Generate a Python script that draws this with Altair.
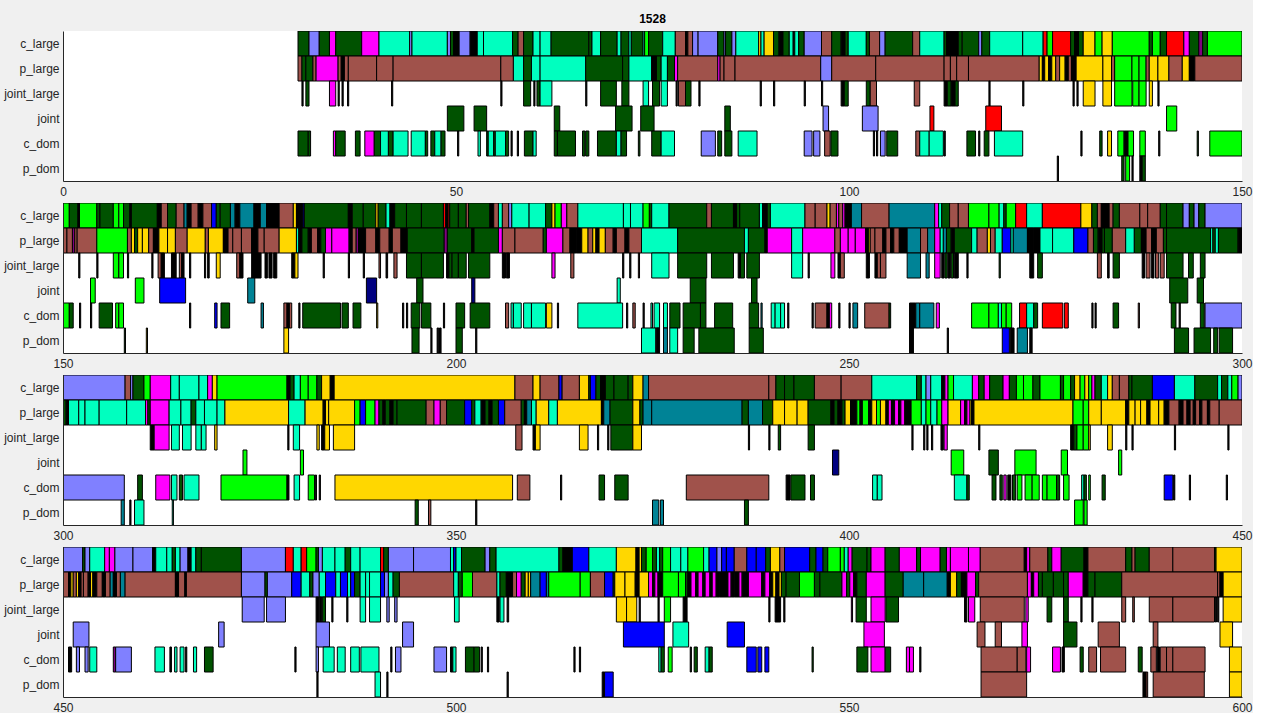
import altair as alt
import pandas as pd

ROWS = ["c_large", "p_large", "joint_large", "joint", "c_dom", "p_dom"]
COLOR_CODES = ["g", "a", "p", "m", "b", "y", "l", "r", "u", "t", "n", "k", "v"]
COLOR_VALUES = ["#005200", "#00FFBF", "#8080FF", "#FF00FF", "#A0524B", "#FFD700",
                "#00FF00", "#FF0000", "#0000FF", "#008396", "#000080", "#000000", "#800080"]
PANEL_STARTS = [0, 150, 300, 450]
PANEL_SPAN = 150
TICK_STEP = 50
TITLE = "1528"

C_LARGE = [
    (29.9,31.3,"g"),(31.3,32.6,"p"),(32.6,33.9,"g"),(33.9,34.7,"m"),(34.7,38.0,"g"),(38.0,40.2,"m"),(40.2,44.1,"a"),(44.1,44.4,"p"),(44.4,48.9,"a"),(48.9,49.3,"p"),(49.3,49.7,"g"),(49.7,50.4,"k"),(50.4,51.8,"p"),(51.8,52.7,"k"),(52.7,53.5,"a"),(53.5,57.2,"a"),(57.2,57.9,"g"),(57.9,58.6,"b"),(58.6,59.8,"g"),(59.8,60.7,"a"),(60.7,62.1,"a"),(62.1,66.9,"g"),(66.9,67.3,"g"),(67.3,68.4,"a"),(68.4,70.5,"g"),(70.5,71.0,"a"),(71.0,72.0,"g"),(72.0,72.3,"a"),(72.3,73.8,"g"),(73.8,74.0,"a"),(74.0,74.5,"l"),(74.5,76.3,"g"),(76.3,77.9,"a"),(77.9,79.2,"b"),(79.2,79.5,"k"),(79.5,80.1,"b"),(80.1,80.8,"p"),(80.8,83.3,"p"),(83.3,84.1,"g"),(84.1,84.3,"p"),(84.3,85.1,"g"),(85.1,85.6,"p"),(85.6,88.5,"a"),(88.5,88.8,"y"),(88.8,89.2,"a"),(89.2,90.4,"y"),(90.4,91.1,"g"),(91.1,91.6,"k"),(91.6,92.4,"g"),(92.4,92.9,"a"),(92.9,93.1,"k"),(93.1,93.6,"a"),(93.6,94.3,"g"),(94.3,96.5,"p"),(96.5,97.8,"b"),(97.8,99.0,"g"),(99.0,99.5,"k"),(99.5,99.9,"g"),(99.9,102.2,"a"),(102.2,102.6,"g"),(102.6,103.9,"b"),(103.9,104.6,"p"),(104.6,108.1,"g"),(108.1,109.0,"b"),(109.0,112.1,"a"),(112.1,112.4,"g"),(112.4,113.9,"k"),(113.9,114.4,"g"),(114.4,116.5,"g"),(116.5,116.9,"p"),(116.9,117.9,"g"),(117.9,122.1,"a"),(122.1,124.7,"a"),(124.7,125.2,"r"),(125.2,125.9,"l"),(125.9,128.2,"r"),(128.2,128.7,"g"),(128.7,129.2,"k"),(129.2,129.8,"g"),(129.8,131.3,"y"),(131.3,132.2,"l"),(132.2,133.5,"y"),(133.5,138.2,"l"),(138.2,138.6,"g"),(138.6,139.6,"l"),(139.6,140.4,"g"),(140.4,142.6,"r"),(142.6,143.3,"m"),(143.3,144.5,"g"),(144.5,145.0,"v"),(145.0,145.6,"g"),(145.6,150,"l"),
    (150,150.8,"l"),(150.8,151.9,"g"),(151.9,152.1,"k"),(152.1,154.3,"l"),(154.3,154.7,"g"),(154.7,156.4,"g"),(156.4,157.1,"l"),(157.1,157.7,"l"),(157.7,158.5,"g"),(158.5,158.7,"k"),(158.7,162.0,"g"),(162.0,162.5,"k"),(162.5,163.3,"b"),(163.3,164.4,"g"),(164.4,165.4,"b"),(165.4,165.8,"t"),(165.8,166.3,"k"),(166.3,167.2,"b"),(167.2,167.8,"k"),(167.8,168.9,"b"),(168.9,169.5,"u"),(169.5,170.0,"g"),(170.0,171.3,"g"),(171.3,171.9,"t"),(171.9,172.5,"k"),(172.5,174.3,"t"),(174.3,175.1,"k"),(175.1,175.9,"t"),(175.9,177.5,"k"),(177.5,179.3,"b"),(179.3,179.7,"y"),(179.7,180.5,"k"),(180.5,180.7,"n"),(180.7,186.3,"g"),(186.3,186.8,"k"),(186.8,188.2,"g"),(188.2,189.8,"g"),(189.8,190.1,"y"),(190.1,191.1,"g"),(191.1,191.6,"a"),(191.6,192.2,"k"),(192.2,193.7,"g"),(193.7,195.6,"g"),(195.6,198.4,"g"),(198.4,198.7,"r"),(198.7,199.0,"k"),(199.0,199.2,"r"),(199.2,200.3,"g"),(200.3,201.3,"g"),(201.3,201.6,"b"),(201.6,204.3,"g"),(204.3,204.8,"k"),(204.8,205.4,"b"),(205.4,205.9,"a"),(205.9,206.7,"b"),(206.7,207.1,"p"),(207.1,209.3,"a"),(209.3,211.4,"a"),(211.4,212.2,"g"),(212.2,212.6,"y"),(212.6,213.4,"l"),(213.4,214.1,"m"),(214.1,215.5,"b"),(215.5,221.3,"a"),(221.3,222.2,"a"),(222.2,223.8,"a"),(223.8,224.6,"l"),(224.6,224.9,"g"),(224.9,227.1,"a"),(227.1,231.9,"g"),(231.9,232.5,"b"),(232.5,235.3,"g"),(235.3,235.7,"k"),(235.7,236.1,"g"),(236.1,238.6,"g"),(238.6,239.0,"a"),(239.0,239.6,"k"),(239.6,240.0,"g"),(240.0,244.4,"a"),(244.4,245.7,"b"),(245.7,247.2,"b"),(247.2,247.6,"y"),(247.6,248.4,"b"),(248.4,248.7,"m"),(248.7,249.2,"b"),(249.2,249.5,"m"),(249.5,250.3,"k"),(250.3,251.6,"t"),(251.6,255.1,"b"),(255.1,260.9,"t"),(260.9,261.4,"m"),(261.4,261.8,"a"),(261.8,262.8,"g"),(262.8,263.9,"b"),(263.9,265.2,"b"),(265.2,267.8,"l"),(267.8,269.1,"l"),(269.1,269.7,"a"),(269.7,270.0,"g"),(270.0,271.2,"l"),(271.2,272.6,"r"),(272.6,274.6,"a"),(274.6,279.5,"r"),(279.5,280.9,"y"),(280.9,281.6,"g"),(281.6,282.1,"b"),(282.1,283.1,"k"),(283.1,283.6,"b"),(283.6,284.4,"g"),(284.4,287.0,"b"),(287.0,288.0,"b"),(288.0,289.6,"b"),(289.6,290.4,"g"),(290.4,292.5,"g"),(292.5,293.3,"p"),(293.3,293.9,"g"),(293.9,294.5,"p"),(294.5,295.3,"g"),(295.3,300,"p"),
    (300,307.9,"p"),(307.9,308.6,"b"),(308.6,308.9,"p"),(308.9,310.3,"g"),(310.3,311.1,"l"),(311.1,313.7,"m"),(313.7,314.8,"a"),(314.8,317.3,"a"),(317.3,318.4,"a"),(318.4,319.0,"m"),(319.0,319.6,"y"),(319.6,328.5,"l"),(328.5,328.9,"k"),(328.9,329.4,"g"),(329.4,330.2,"a"),(330.2,331.2,"l"),(331.2,332.3,"l"),(332.3,332.9,"g"),(332.9,334.0,"y"),(334.0,334.5,"k"),(334.5,357.5,"y"),(357.5,359.8,"b"),(359.8,360.7,"y"),(360.7,363.1,"b"),(363.1,363.5,"u"),(363.5,365.7,"b"),(365.7,366.9,"y"),(366.9,367.1,"g"),(367.1,367.8,"u"),(367.8,368.4,"g"),(368.4,369.0,"k"),(369.0,370.1,"g"),(370.1,371.9,"g"),(371.9,372.5,"g"),(372.5,373.8,"y"),(373.8,374.5,"t"),(374.5,389.8,"b"),(389.8,390.7,"b"),(390.7,391.8,"g"),(391.8,393.0,"g"),(393.0,395.6,"g"),(395.6,399.0,"b"),(399.0,402.9,"b"),(402.9,408.6,"a"),(408.6,409.2,"g"),(409.2,409.8,"a"),(409.8,410.4,"p"),(410.4,411.8,"a"),(411.8,412.2,"k"),(412.2,412.6,"m"),(412.6,413.3,"l"),(413.3,415.7,"a"),(415.7,416.5,"m"),(416.5,417.2,"g"),(417.2,417.9,"m"),(417.9,419.6,"g"),(419.6,420.4,"m"),(420.4,421.3,"g"),(421.3,422.2,"l"),(422.2,423.4,"l"),(423.4,424.3,"g"),(424.3,426.9,"l"),(426.9,427.3,"g"),(427.3,428.2,"l"),(428.2,428.7,"g"),(428.7,429.4,"y"),(429.4,430.0,"l"),(430.0,430.5,"y"),(430.5,430.9,"l"),(430.9,431.3,"m"),(431.3,432.1,"g"),(432.1,432.9,"a"),(432.9,433.5,"y"),(433.5,434.4,"b"),(434.4,435.6,"b"),(435.6,436.0,"g"),(436.0,438.6,"g"),(438.6,441.4,"u"),(441.4,444.0,"a"),(444.0,446.9,"g"),(446.9,447.4,"a"),(447.4,448.2,"g"),(448.2,448.7,"a"),(448.7,449.5,"l"),(449.5,450,"p"),
    (450,452.5,"p"),(452.5,452.8,"g"),(452.8,453.4,"p"),(453.4,455.3,"a"),(455.3,455.9,"m"),(455.9,456.6,"m"),(456.6,458.9,"p"),(458.9,461.4,"p"),(461.4,461.8,"k"),(461.8,463.2,"a"),(463.2,463.9,"a"),(463.9,464.3,"g"),(464.3,464.9,"a"),(464.9,465.9,"p"),(465.9,466.3,"k"),(466.3,466.9,"a"),(466.9,467.6,"g"),(467.6,472.7,"g"),(472.7,478.3,"p"),(478.3,479.3,"r"),(479.3,480.3,"a"),(480.3,481.0,"r"),(481.0,482.2,"l"),(482.2,482.5,"g"),(482.5,483.0,"p"),(483.0,484.6,"a"),(484.6,485.9,"a"),(485.9,486.6,"g"),(486.6,487.8,"a"),(487.8,490.4,"a"),(490.4,490.8,"r"),(490.8,491.4,"g"),(491.4,494.6,"p"),(494.6,499.3,"p"),(499.3,499.7,"a"),(499.7,500.0,"u"),(500.0,500.7,"a"),(500.7,503.7,"g"),(503.7,504.3,"p"),(504.3,505.1,"g"),(505.1,513.1,"a"),(513.1,513.6,"g"),(513.6,514.8,"k"),(514.8,516.9,"u"),(516.9,520.4,"a"),(520.4,522.9,"y"),(522.9,523.3,"k"),(523.3,523.6,"y"),(523.6,524.2,"g"),(524.2,525.0,"l"),(525.0,525.5,"g"),(525.5,525.9,"a"),(525.9,526.3,"g"),(526.3,527.3,"l"),(527.3,528.6,"a"),(528.6,529.5,"a"),(529.5,531.5,"l"),(531.5,532.2,"a"),(532.2,533.2,"u"),(533.2,533.8,"p"),(533.8,534.4,"u"),(534.4,535.4,"u"),(535.4,537.0,"b"),(537.0,538.2,"u"),(538.2,539.4,"u"),(539.4,540.0,"g"),(540.0,541.2,"y"),(541.2,541.8,"b"),(541.8,545.0,"u"),(545.0,545.8,"g"),(545.8,546.7,"u"),(546.7,547.3,"g"),(547.3,548.9,"l"),(548.9,549.4,"l"),(549.4,549.9,"a"),(549.9,550.4,"m"),(550.4,552.3,"g"),(552.3,552.8,"g"),(552.8,554.6,"m"),(554.6,556.4,"g"),(556.4,558.6,"m"),(558.6,559.1,"g"),(559.1,561.6,"m"),(561.6,562.4,"g"),(562.4,562.9,"m"),(562.9,565.2,"m"),(565.2,566.7,"m"),(566.7,572.3,"b"),(572.3,572.6,"k"),(572.6,573.0,"m"),(573.0,575.3,"b"),(575.3,575.8,"g"),(575.8,577.0,"m"),(577.0,579.9,"g"),(579.9,580.4,"k"),(580.4,585.2,"b"),(585.2,586.0,"g"),(586.0,586.4,"b"),(586.4,588.2,"g"),(588.2,591.2,"b"),(591.2,596.5,"b"),(596.5,596.7,"g"),(596.7,600,"y"),
]

P_LARGE = [
    (29.9,30.4,"b"),(30.4,30.9,"g"),(30.9,31.8,"g"),(31.8,32.2,"b"),(32.2,35.0,"m"),(35.0,35.4,"b"),(35.4,35.8,"k"),(35.8,36.3,"b"),(36.3,39.9,"b"),(39.9,42.0,"b"),(42.0,55.7,"b"),(55.7,57.3,"b"),(57.3,58.6,"a"),(58.6,59.6,"g"),(59.6,60.7,"a"),(60.7,66.5,"a"),(66.5,71.2,"g"),(71.2,72.0,"g"),(72.0,74.9,"a"),(74.9,75.5,"k"),(75.5,76.1,"g"),(76.1,76.9,"a"),(76.9,77.8,"g"),(77.8,78.2,"m"),(78.2,83.3,"b"),(83.3,83.6,"m"),(83.6,84.1,"b"),(84.1,85.5,"b"),(85.5,96.4,"b"),(96.4,97.8,"p"),(97.8,103.4,"b"),(103.4,112.1,"b"),(112.1,112.9,"b"),(112.9,113.7,"b"),(113.7,115.2,"b"),(115.2,124.2,"b"),(124.2,124.6,"y"),(124.6,124.9,"k"),(124.9,125.4,"y"),(125.4,125.8,"k"),(125.8,126.3,"y"),(126.3,126.8,"b"),(126.8,127.5,"y"),(127.5,127.9,"k"),(127.9,128.3,"b"),(128.3,128.9,"k"),(128.9,132.3,"y"),(132.3,133.4,"y"),(133.4,133.8,"b"),(133.8,136.0,"l"),(136.0,136.9,"l"),(136.9,137.8,"l"),(137.8,138.2,"b"),(138.2,139.3,"y"),(139.3,140.7,"y"),(140.7,142.4,"b"),(142.4,143.3,"y"),(143.3,144.0,"k"),(144.0,150,"b"),
    (150,150.5,"b"),(150.5,151.2,"b"),(151.2,151.5,"v"),(151.5,151.8,"b"),(151.8,154.3,"b"),(154.3,158.2,"l"),(158.2,158.7,"b"),(158.7,159.1,"y"),(159.1,159.5,"g"),(159.5,160.1,"y"),(160.1,160.9,"y"),(160.9,161.5,"b"),(161.5,162.2,"k"),(162.2,163.3,"y"),(163.3,164.3,"y"),(164.3,165.8,"b"),(165.8,168.1,"y"),(168.1,168.5,"b"),(168.5,170.4,"y"),(170.4,171.0,"k"),(171.0,171.6,"b"),(171.6,172.7,"b"),(172.7,174.0,"b"),(174.0,174.8,"k"),(174.8,175.6,"b"),(175.6,177.5,"b"),(177.5,179.7,"y"),(179.7,180.0,"a"),(180.0,180.4,"k"),(180.4,181.2,"g"),(181.2,181.6,"k"),(181.6,182.4,"b"),(182.4,182.8,"k"),(182.8,183.4,"g"),(183.4,184.2,"m"),(184.2,186.4,"m"),(186.4,186.8,"k"),(186.8,187.3,"b"),(187.3,187.6,"v"),(187.6,188.5,"k"),(188.5,189.8,"b"),(189.8,190.3,"k"),(190.3,191.5,"b"),(191.5,191.9,"k"),(191.9,193.0,"b"),(193.0,193.8,"k"),(193.8,198.5,"g"),(198.5,198.9,"v"),(198.9,202.0,"g"),(202.0,202.3,"k"),(202.3,205.4,"g"),(205.4,205.9,"m"),(205.9,207.5,"b"),(207.5,211.1,"b"),(211.1,211.5,"g"),(211.5,213.6,"m"),(213.6,214.5,"b"),(214.5,215.3,"k"),(215.3,216.0,"k"),(216.0,216.8,"y"),(216.8,217.4,"b"),(217.4,217.8,"y"),(217.8,218.2,"k"),(218.2,219.0,"y"),(219.0,220.0,"b"),(220.0,220.4,"k"),(220.4,221.5,"b"),(221.5,222.0,"k"),(222.0,223.6,"b"),(223.6,228.2,"a"),(228.2,236.7,"g"),(236.7,237.2,"a"),(237.2,239.3,"g"),(239.3,239.6,"k"),(239.6,242.7,"m"),(242.7,244.1,"a"),(244.1,248.2,"m"),(248.2,248.9,"b"),(248.9,249.9,"m"),(249.9,250.8,"m"),(250.8,252.1,"m"),(252.1,252.5,"k"),(252.5,252.7,"y"),(252.7,253.3,"b"),(253.3,254.3,"b"),(254.3,254.7,"k"),(254.7,255.3,"b"),(255.3,255.7,"k"),(255.7,256.4,"b"),(256.4,257.4,"k"),(257.4,259.1,"t"),(259.1,260.0,"b"),(260.0,260.9,"t"),(260.9,261.6,"m"),(261.6,262.0,"a"),(262.0,262.4,"t"),(262.4,263.0,"g"),(263.0,263.4,"k"),(263.4,265.6,"g"),(265.6,266.3,"a"),(266.3,267.6,"b"),(267.6,268.0,"y"),(268.0,268.6,"b"),(268.6,269.5,"a"),(269.5,270.6,"u"),(270.6,270.9,"a"),(270.9,272.7,"t"),(272.7,273.5,"k"),(273.5,274.3,"k"),(274.3,275.9,"a"),(275.9,278.6,"a"),(278.6,280.4,"u"),(280.4,281.1,"b"),(281.1,281.7,"g"),(281.7,282.2,"k"),(282.2,282.5,"g"),(282.5,283.5,"g"),(283.5,285.2,"b"),(285.2,286.3,"a"),(286.3,287.2,"g"),(287.2,287.8,"k"),(287.8,288.5,"b"),(288.5,289.1,"k"),(289.1,290.0,"b"),(290.0,290.4,"g"),(290.4,296.0,"g"),(296.0,296.3,"a"),(296.3,296.6,"g"),(296.6,297.0,"a"),(297.0,299.5,"g"),(299.5,300,"k"),
    (300,300.4,"g"),(300.4,300.7,"k"),(300.7,302.0,"a"),(302.0,302.8,"a"),(302.8,304.6,"a"),(304.6,308.1,"a"),(308.1,310.5,"a"),(310.5,310.8,"m"),(310.8,311.1,"g"),(311.1,313.5,"m"),(313.5,315.0,"a"),(315.0,316.3,"a"),(316.3,316.9,"g"),(316.9,318.0,"a"),(318.0,319.6,"a"),(319.6,320.6,"a"),(320.6,328.7,"y"),(328.7,330.8,"a"),(330.8,333.1,"y"),(333.1,333.4,"k"),(333.4,333.8,"y"),(333.8,337.1,"y"),(337.1,337.8,"l"),(337.8,338.5,"u"),(338.5,339.7,"l"),(339.7,340.2,"m"),(340.2,340.7,"g"),(340.7,341.0,"k"),(341.0,341.6,"g"),(341.6,342.0,"k"),(342.0,342.5,"g"),(342.5,346.2,"g"),(346.2,347.2,"b"),(347.2,348.0,"m"),(348.0,348.8,"b"),(348.8,351.1,"g"),(351.1,352.0,"u"),(352.0,352.4,"g"),(352.4,353.2,"a"),(353.2,353.7,"k"),(353.7,354.2,"g"),(354.2,354.6,"k"),(354.6,355.4,"g"),(355.4,356.2,"u"),(356.2,358.3,"b"),(358.3,358.7,"g"),(358.7,359.0,"k"),(359.0,359.6,"t"),(359.6,360.2,"a"),(360.2,361.8,"y"),(361.8,362.9,"a"),(362.9,368.5,"y"),(368.5,368.8,"k"),(368.8,369.6,"t"),(369.6,372.5,"g"),(372.5,373.4,"y"),(373.4,373.8,"g"),(373.8,374.9,"t"),(374.9,386.4,"t"),(386.4,387.2,"g"),(387.2,389.0,"t"),(389.0,390.3,"g"),(390.3,391.8,"y"),(391.8,393.4,"y"),(393.4,394.8,"y"),(394.8,397.7,"g"),(397.7,398.1,"k"),(398.1,398.6,"g"),(398.6,399.1,"k"),(399.1,399.5,"g"),(399.5,400.2,"y"),(400.2,401.0,"k"),(401.0,401.4,"l"),(401.4,401.7,"k"),(401.7,402.5,"l"),(402.5,402.9,"k"),(402.9,403.5,"y"),(403.5,404.0,"l"),(404.0,404.7,"y"),(404.7,405.0,"k"),(405.0,405.4,"m"),(405.4,405.8,"k"),(405.8,406.3,"m"),(406.3,406.6,"k"),(406.6,407.1,"m"),(407.1,407.9,"k"),(407.9,409.2,"l"),(409.2,409.8,"a"),(409.8,410.4,"l"),(410.4,411.2,"a"),(411.2,411.8,"l"),(411.8,412.6,"m"),(412.6,414.2,"y"),(414.2,414.7,"m"),(414.7,415.0,"k"),(415.0,415.4,"m"),(415.4,415.6,"y"),(415.6,415.9,"k"),(415.9,428.5,"y"),(428.5,429.8,"l"),(429.8,430.5,"l"),(430.5,432.1,"y"),(432.1,435.2,"y"),(435.2,435.6,"k"),(435.6,436.4,"y"),(436.4,437.1,"y"),(437.1,437.9,"y"),(437.9,438.3,"k"),(438.3,439.4,"y"),(439.4,440.1,"y"),(440.1,440.7,"k"),(440.7,442.0,"b"),(442.0,442.5,"k"),(442.5,443.0,"b"),(443.0,443.4,"k"),(443.4,443.8,"b"),(443.8,444.1,"k"),(444.1,444.6,"b"),(444.6,444.9,"k"),(444.9,445.6,"b"),(445.6,445.9,"k"),(445.9,447.1,"b"),(447.1,450,"b"),
    (450,450.7,"b"),(450.7,451.0,"k"),(451.0,451.3,"y"),(451.3,451.7,"b"),(451.7,452.0,"y"),(452.0,452.3,"k"),(452.3,452.6,"b"),(452.6,453.2,"b"),(453.2,453.5,"k"),(453.5,453.8,"y"),(453.8,454.3,"k"),(454.3,455.0,"b"),(455.0,455.4,"k"),(455.4,456.0,"b"),(456.0,456.4,"t"),(456.4,456.8,"k"),(456.8,457.3,"b"),(457.3,457.9,"t"),(457.9,464.3,"b"),(464.3,464.7,"k"),(464.7,465.5,"b"),(465.5,465.7,"k"),(465.7,472.7,"b"),(472.7,475.7,"p"),(475.7,476.0,"g"),(476.0,479.1,"p"),(479.1,480.3,"u"),(480.3,481.4,"a"),(481.4,481.8,"g"),(481.8,482.6,"p"),(482.6,483.4,"a"),(483.4,484.7,"u"),(484.7,485.3,"a"),(485.3,486.2,"u"),(486.2,486.6,"a"),(486.6,487.1,"u"),(487.1,487.8,"g"),(487.8,488.5,"a"),(488.5,489.0,"a"),(489.0,490.4,"a"),(490.4,490.9,"u"),(490.9,491.4,"p"),(491.4,492.0,"a"),(492.0,492.8,"g"),(492.8,499.7,"b"),(499.7,500.3,"a"),(500.3,500.8,"g"),(500.8,502.1,"l"),(502.1,505.2,"b"),(505.2,505.6,"a"),(505.6,506.4,"g"),(506.4,507.2,"k"),(507.2,507.7,"b"),(507.7,508.3,"m"),(508.3,508.8,"g"),(508.8,509.2,"y"),(509.2,509.5,"y"),(509.5,510.7,"t"),(510.7,511.5,"u"),(511.5,511.8,"t"),(511.8,515.8,"l"),(515.8,517.1,"l"),(517.1,518.9,"b"),(518.9,520.0,"u"),(520.0,520.2,"g"),(520.2,521.5,"y"),(521.5,522.8,"y"),(522.8,523.3,"k"),(523.3,524.5,"y"),(524.5,525.0,"m"),(525.0,525.3,"k"),(525.3,525.7,"m"),(525.7,526.3,"k"),(526.3,528.3,"l"),(528.3,529.2,"l"),(529.2,529.5,"g"),(529.5,529.9,"k"),(529.9,530.5,"m"),(530.5,530.8,"k"),(530.8,531.4,"m"),(531.4,531.7,"k"),(531.7,532.3,"m"),(532.3,532.6,"k"),(532.6,533.1,"m"),(533.1,533.5,"k"),(533.5,534.6,"k"),(534.6,535.0,"m"),(535.0,535.4,"k"),(535.4,536.0,"k"),(536.0,536.4,"m"),(536.4,537.2,"k"),(537.2,538.9,"m"),(538.9,539.3,"k"),(539.3,539.9,"m"),(539.9,540.3,"k"),(540.3,540.7,"y"),(540.7,541.1,"k"),(541.1,541.4,"y"),(541.4,542.0,"g"),(542.0,543.7,"g"),(543.7,545.6,"l"),(545.6,546.3,"g"),(546.3,549.1,"g"),(549.1,549.7,"m"),(549.7,550.1,"g"),(550.1,550.6,"m"),(550.6,551.0,"k"),(551.0,552.2,"g"),(552.2,554.6,"m"),(554.6,556.9,"g"),(556.9,559.5,"t"),(559.5,562.5,"t"),(562.5,562.9,"k"),(562.9,563.7,"y"),(563.7,564.3,"g"),(564.3,565.0,"k"),(565.0,566.1,"m"),(566.1,566.5,"g"),(566.5,572.7,"b"),(572.7,573.2,"m"),(573.2,573.5,"k"),(573.5,574.1,"m"),(574.1,574.6,"g"),(574.6,576.0,"g"),(576.0,577.3,"g"),(577.3,577.9,"g"),(577.9,579.8,"m"),(579.8,580.4,"k"),(580.4,581.3,"g"),(581.3,584.7,"g"),(584.7,596.9,"b"),(596.9,597.2,"b"),(597.2,597.6,"k"),(597.6,600,"y"),
]

JOINT_LARGE = [
    (30.4,30.55,"k"),(30.9,31.3,"g"),(33.9,34.7,"m"),(35.0,35.15,"k"),(35.5,35.65,"k"),(36.2,36.35,"k"),(41.8,41.95,"k"),(55.7,55.85,"k"),(58.6,59.5,"g"),(59.9,60.05,"k"),(60.3,60.7,"g"),(60.7,62.2,"a"),(66.5,66.65,"k"),(68.4,70.4,"g"),(71.1,72.0,"g"),(73.8,74.5,"a"),(75.0,75.9,"g"),(76.1,76.9,"a"),(78.0,78.15,"k"),(78.3,79.2,"b"),(79.2,79.9,"g"),(80.9,81.05,"k"),(88.7,88.85,"k"),(90.4,90.55,"k"),(94.3,94.45,"k"),(96.5,96.65,"k"),(99.0,99.4,"k"),(99.4,99.9,"g"),(102.2,102.7,"g"),(102.7,103.5,"b"),(108.3,109.0,"b"),(112.1,112.5,"k"),(112.5,113.0,"g"),(113.0,113.5,"k"),(113.5,113.9,"g"),(117.8,117.95,"k"),(122.1,122.25,"k"),(128.5,128.65,"k"),(129.0,129.15,"k"),(129.8,131.3,"y"),(132.3,133.4,"y"),(133.8,136.0,"l"),(136.1,136.9,"l"),(136.9,137.8,"l"),(138.2,138.6,"y"),(139.3,139.45,"k"),
    (152.0,152.15,"k"),(154.3,154.45,"k"),(156.4,157.1,"l"),(157.1,157.7,"l"),(158.2,158.35,"k"),(161.3,161.45,"k"),(162.1,162.5,"b"),(162.5,162.9,"k"),(163.8,164.4,"k"),(164.8,165.1,"b"),(165.1,165.4,"k"),(166.1,166.25,"k"),(168.0,168.15,"k"),(168.4,168.6,"k"),(169.5,170.0,"y"),(172.1,172.5,"b"),(172.5,172.9,"k"),(174.0,175.2,"k"),(175.7,176.0,"k"),(176.2,176.6,"k"),(176.8,177.2,"k"),(179.1,179.5,"k"),(179.5,179.9,"y"),(183.1,183.25,"k"),(186.3,186.45,"k"),(188.2,188.35,"k"),(190.2,190.4,"b"),(191.1,191.3,"k"),(192.1,192.5,"b"),(193.7,195.6,"g"),(195.6,198.4,"g"),(198.8,199.1,"k"),(199.1,199.5,"g"),(199.5,200.3,"g"),(200.3,201.3,"g"),(201.6,204.3,"g"),(205.9,206.3,"k"),(206.4,206.8,"k"),(212.2,212.6,"m"),(214.6,215.0,"b"),(221.2,221.35,"k"),(222.1,222.25,"k"),(223.2,223.35,"b"),(224.9,227.1,"a"),(228.2,231.9,"g"),(232.5,235.3,"g"),(235.9,236.2,"k"),(236.2,236.7,"g"),(237.0,238.6,"g"),(242.7,244.1,"a"),(244.8,244.95,"k"),(247.7,248.2,"m"),(248.6,248.9,"k"),(248.9,249.4,"b"),(252.2,252.6,"k"),(253.3,253.6,"k"),(253.6,254.0,"b"),(254.0,254.7,"b"),(257.4,259.1,"t"),(259.8,260.2,"t"),(260.9,261.6,"m"),(261.8,262.1,"k"),(262.2,262.5,"g"),(262.6,262.9,"k"),(263.0,263.3,"g"),(263.4,263.9,"k"),(265.0,265.15,"k"),(269.1,269.25,"g"),(273.0,273.5,"k"),(274.0,274.6,"g"),(281.6,282.1,"b"),(282.9,283.1,"k"),(283.6,284.4,"g"),(287.3,287.6,"k"),(287.8,288.3,"b"),(288.5,288.8,"k"),(289.0,289.4,"b"),(289.6,290.1,"b"),(290.4,292.5,"g"),(293.2,293.8,"g"),(294.7,295.3,"g"),
    (311.1,311.6,"k"),(311.6,313.5,"m"),(313.8,314.8,"a"),(315.2,316.3,"a"),(316.9,317.6,"a"),(317.6,318.2,"a"),(319.3,319.6,"y"),(328.6,328.75,"k"),(329.3,330.1,"a"),(332.3,332.6,"y"),(332.9,333.3,"k"),(333.3,333.9,"y"),(334.4,337.1,"y"),(357.6,358.4,"b"),(359.8,360.1,"k"),(360.1,360.7,"y"),(365.7,366.8,"y"),(368.0,368.15,"k"),(369.3,369.45,"k"),(369.7,372.5,"g"),(372.5,373.6,"y"),(387.2,387.35,"k"),(389.8,389.95,"k"),(391.0,391.3,"g"),(394.8,395.6,"g"),(408.0,408.15,"k"),(409.5,409.65,"k"),(409.9,410.05,"k"),(410.5,410.65,"k"),(411.7,412.0,"k"),(412.1,412.5,"m"),(416.5,416.65,"k"),(428.2,428.6,"k"),(428.6,429.0,"g"),(429.0,429.8,"l"),(429.8,430.5,"l"),(430.5,430.7,"y"),(432.9,433.5,"y"),(435.2,435.35,"k"),(436.0,436.15,"k"),(441.4,441.55,"k"),(448.2,448.35,"k"),
    (472.8,475.6,"p"),(475.9,478.3,"p"),(482.2,482.5,"k"),(482.6,482.9,"k"),(483.0,483.4,"g"),(484.2,484.35,"k"),(486.1,486.25,"k"),(487.8,488.5,"a"),(489.0,490.4,"a"),(491.2,491.5,"p"),(492.2,492.5,"p"),(499.8,500.4,"a"),(505.2,505.5,"k"),(505.6,506.1,"a"),(506.5,506.7,"k"),(520.4,521.7,"y"),(521.7,523.0,"y"),(523.3,523.45,"k"),(525.7,525.85,"k"),(526.5,527.3,"l"),(528.9,529.4,"k"),(539.8,539.95,"k"),(540.6,541.3,"k"),(541.7,541.85,"k"),(550.3,550.45,"m"),(550.9,552.2,"g"),(552.8,554.6,"m"),(554.7,556.3,"g"),(564.7,565.0,"k"),(565.2,566.0,"m"),(566.7,572.3,"b"),(572.5,572.8,"m"),(575.2,575.8,"g"),(577.3,577.9,"g"),(579.5,579.65,"k"),(580.9,581.05,"k"),(584.7,585.2,"b"),(586.1,586.3,"b"),(588.2,591.2,"b"),(591.2,596.5,"b"),(596.6,596.75,"k"),(596.9,597.05,"k"),(597.6,600,"y"),
]

JOINT = [
    (48.9,51.0,"g"),(52.3,53.9,"g"),(62.5,63.2,"g"),(70.3,72.4,"g"),(73.5,75.2,"g"),(84.2,84.9,"g"),(96.7,97.4,"p"),(101.7,103.7,"p"),(110.3,110.8,"r"),(117.4,119.4,"r"),(140.4,141.7,"l"),
    (153.5,154.1,"l"),(159.2,160.3,"l"),(162.3,165.6,"u"),(173.5,174.4,"t"),(188.6,189.9,"n"),(195.0,195.8,"g"),(202.0,202.4,"n"),(220.5,220.9,"a"),(229.8,231.8,"g"),(237.6,238.3,"g"),(290.8,293.1,"g"),(294.3,295.1,"g"),
    (322.9,323.4,"l"),(330.2,330.6,"l"),(397.9,398.7,"n"),(413.0,414.6,"l"),(417.8,419.0,"g"),(421.1,423.8,"l"),(427.0,427.8,"l"),(434.3,434.7,"l"),
    (451.3,453.3,"p"),(469.8,470.5,"p"),(482.2,483.9,"p"),(493.2,494.6,"p"),(521.3,526.5,"u"),(527.6,529.6,"a"),(534.5,536.7,"u"),(551.9,554.5,"m"),(566.3,567.3,"b"),(568.6,569.4,"b"),(572.0,572.7,"m"),(577.3,579.0,"g"),(581.7,584.4,"b"),(588.7,589.3,"b"),(597.2,598.8,"y"),
]

C_DOM = [
    (29.9,31.2,"g"),(31.2,31.5,"g"),(34.4,34.7,"m"),(34.7,35.9,"g"),(37.2,37.8,"g"),(38.4,39.6,"m"),(39.6,40.4,"g"),(40.4,41.4,"a"),(41.4,42.0,"g"),(42.0,43.9,"a"),(44.3,46.1,"a"),(46.1,46.4,"g"),(46.8,47.3,"g"),(47.3,48.1,"a"),(48.1,48.6,"g"),(50.2,50.35,"k"),(52.8,53.1,"a"),(53.9,54.1,"g"),(54.1,54.8,"a"),(54.8,55.0,"g"),(55.0,56.3,"a"),(56.3,56.7,"g"),(57.0,57.15,"k"),(57.8,57.95,"k"),(58.7,59.8,"g"),(59.8,60.2,"a"),(62.5,62.9,"g"),(62.9,65.2,"g"),(66.1,66.4,"g"),(66.5,66.9,"g"),(68.0,70.4,"g"),(70.4,71.0,"a"),(71.0,71.7,"g"),(73.2,73.4,"g"),(74.9,76.1,"g"),(76.1,77.8,"a"),(81.2,83.0,"p"),(83.3,83.8,"g"),(84.2,85.1,"g"),(85.9,88.3,"a"),(94.3,95.3,"p"),(95.5,96.3,"p"),(96.9,97.6,"b"),(97.7,98.6,"g"),(103.1,103.25,"k"),(103.5,103.65,"k"),(104.0,104.6,"p"),(104.8,106.2,"g"),(108.5,109.0,"b"),(109.0,110.2,"a"),(110.2,112.0,"a"),(112.1,112.25,"k"),(115.0,116.1,"g"),(116.5,116.65,"k"),(117.2,117.8,"g"),(118.5,122.1,"a"),(129.5,129.65,"k"),(131.9,132.2,"g"),(132.9,133.4,"y"),(134.2,135.0,"l"),(135.0,135.5,"k"),(135.5,136.2,"l"),(137.0,137.7,"l"),(139.4,139.55,"k"),(144.3,144.45,"g"),(145.9,150,"l"),
    (150,150.8,"l"),(150.8,151.3,"g"),(152.1,152.25,"k"),(153.5,153.65,"k"),(154.6,156.3,"g"),(156.7,157.1,"l"),(157.1,157.7,"l"),(166.1,166.25,"k"),(169.3,169.6,"u"),(170.1,171.2,"g"),(175.2,175.5,"t"),(178.1,178.5,"b"),(178.5,178.8,"k"),(178.8,179.1,"b"),(180.0,180.15,"k"),(180.5,185.3,"g"),(185.5,186.3,"g"),(186.9,187.9,"g"),(189.9,190.05,"y"),(193.2,193.35,"k"),(193.7,193.85,"k"),(194.3,195.4,"g"),(195.6,196.8,"g"),(198.4,198.55,"k"),(200.0,201.1,"g"),(201.8,204.3,"g"),(206.3,206.7,"b"),(207.0,207.3,"a"),(207.3,208.3,"a"),(208.6,209.6,"a"),(209.6,211.4,"a"),(211.5,212.2,"y"),(212.9,213.05,"k"),(215.5,221.2,"a"),(221.7,221.85,"k"),(222.5,222.8,"b"),(223.8,223.95,"k"),(224.8,225.0,"a"),(225.2,225.9,"a"),(226.4,226.9,"a"),(227.2,228.5,"g"),(228.9,231.1,"g"),(231.1,231.8,"g"),(232.9,235.2,"g"),(237.3,238.5,"g"),(238.8,238.95,"t"),(240.1,240.6,"a"),(240.6,241.3,"a"),(241.3,241.8,"a"),(242.2,242.35,"k"),(245.3,245.45,"k"),(245.7,247.2,"b"),(247.2,247.5,"k"),(247.5,247.8,"m"),(248.7,248.85,"k"),(250.0,250.15,"k"),(250.5,251.1,"t"),(252.0,255.1,"b"),(255.1,255.3,"g"),(257.7,258.5,"k"),(258.5,259.0,"t"),(259.0,260.8,"t"),(261.1,261.5,"m"),(265.6,267.8,"l"),(267.8,269.0,"l"),(269.0,269.4,"a"),(269.4,270.0,"l"),(270.0,270.7,"l"),(271.7,272.6,"r"),(272.6,273.5,"a"),(273.5,274.0,"g"),(274.6,277.2,"r"),(277.4,277.9,"r"),(280.9,281.05,"k"),(281.3,281.45,"k"),(283.6,284.3,"g"),(286.8,286.95,"b"),(291.0,291.6,"g"),(292.0,292.15,"k"),(294.7,295.2,"g"),(295.3,300,"p"),
    (300,307.8,"p"),(309.5,310.1,"g"),(311.8,313.6,"m"),(313.8,314.5,"a"),(314.8,315.2,"g"),(315.4,317.3,"a"),(320.1,328.5,"l"),(328.5,328.75,"k"),(329.4,330.1,"a"),(331.2,332.0,"l"),(332.1,332.25,"k"),(332.6,332.75,"k"),(334.6,357.2,"y"),(357.8,359.4,"b"),(363.3,363.45,"k"),(368.2,368.9,"g"),(370.2,371.9,"g"),(379.3,389.8,"b"),(392.0,392.5,"k"),(392.6,394.4,"g"),(395.1,395.6,"g"),(403.0,403.6,"a"),(403.6,404.2,"a"),(413.4,415.0,"a"),(415.0,415.3,"g"),(418.2,418.7,"g"),(419.2,419.5,"g"),(419.7,420.0,"m"),(420.2,420.6,"k"),(420.8,421.2,"g"),(421.4,422.0,"l"),(422.4,423.3,"l"),(423.3,424.2,"l"),(424.6,425.2,"l"),(425.2,426.4,"l"),(426.4,426.8,"g"),(427.3,428.0,"l"),(429.6,429.9,"a"),(429.9,430.2,"g"),(430.5,430.7,"l"),(432.2,432.6,"g"),(440.1,441.2,"u"),(441.3,441.45,"k"),(443.3,443.45,"k"),(448.0,448.15,"k"),
    (450.7,451.1,"k"),(451.7,452.1,"p"),(452.8,453.2,"p"),(453.4,454.3,"a"),(456.4,456.7,"v"),(456.7,458.7,"p"),(461.7,462.9,"a"),(463.6,463.8,"k"),(464.2,464.5,"a"),(464.9,465.4,"a"),(465.6,465.75,"k"),(466.6,467.0,"a"),(468.0,469.1,"g"),(479.5,479.65,"k"),(482.2,482.5,"p"),(483.1,484.5,"a"),(484.9,485.9,"a"),(486.6,487.7,"a"),(487.9,490.2,"a"),(491.7,491.85,"k"),(492.3,493.0,"p"),(497.2,498.8,"p"),(499.3,499.6,"k"),(499.6,500.0,"a"),(501.2,502.3,"g"),(502.3,503.0,"g"),(503.2,503.35,"k"),(504.0,504.15,"k"),(515.0,515.15,"k"),(515.7,515.85,"k"),(525.8,526.1,"a"),(526.1,526.5,"g"),(527.0,527.5,"l"),(529.8,529.95,"k"),(530.3,530.7,"g"),(531.7,532.2,"a"),(532.2,532.6,"g"),(537.0,538.2,"u"),(538.4,538.9,"u"),(539.3,539.8,"u"),(545.3,545.45,"g"),(551.0,552.4,"g"),(552.8,554.6,"m"),(554.6,555.3,"g"),(557.3,557.7,"m"),(557.7,558.2,"m"),(559.0,559.15,"k"),(566.8,571.4,"b"),(571.4,572.5,"b"),(572.6,573.1,"m"),(575.9,576.9,"m"),(577.1,577.4,"k"),(579.4,579.8,"g"),(580.5,581.5,"b"),(582.0,585.2,"b"),(586.8,587.3,"g"),(588.4,589.1,"b"),(589.2,589.5,"k"),(589.6,590.4,"b"),(590.4,591.2,"b"),(591.2,595.3,"b"),(598.4,600,"y"),
]

P_DOM = [
    (126.5,126.65,"k"),(134.7,135.0,"g"),(135.2,135.7,"l"),(136.0,136.15,"k"),(137.0,137.3,"k"),(137.3,137.7,"g"),
    (157.8,157.95,"g"),(160.6,160.75,"y"),(178.1,178.7,"y"),(194.4,195.3,"g"),(196.8,196.95,"k"),(197.6,197.8,"k"),(197.9,198.1,"k"),(200.0,200.8,"g"),(202.5,202.65,"k"),(223.6,225.4,"a"),(225.5,225.9,"k"),(226.4,226.9,"t"),(227.2,228.2,"a"),(228.9,230.3,"g"),(230.9,235.4,"g"),(237.3,239.1,"g"),(257.7,258.2,"k"),(262.5,262.65,"k"),(269.5,270.4,"u"),(270.5,271.0,"k"),(271.4,272.7,"t"),(273.0,273.3,"k"),(291.4,293.2,"g"),(293.9,296.0,"g"),(296.4,296.9,"g"),(297.1,298.8,"g"),
    (307.4,307.8,"t"),(308.5,308.65,"k"),(309.1,310.3,"a"),(313.9,314.05,"a"),(344.8,345.2,"g"),(346.5,346.8,"b"),(352.5,352.65,"k"),(375.0,375.8,"t"),(376.0,376.4,"t"),(386.7,387.2,"g"),(428.7,429.8,"l"),(429.9,430.3,"l"),
    (482.3,482.45,"k"),(489.7,490.4,"a"),(491.2,491.35,"k"),(506.5,506.65,"k"),(518.6,518.9,"k"),(518.9,520.0,"u"),(566.8,572.6,"b"),(587.4,587.8,"k"),(587.8,588.0,"b"),(588.7,595.2,"b"),(598.4,600,"y"),
]

SERIES = {
    "c_large": C_LARGE, "p_large": P_LARGE, "joint_large": JOINT_LARGE,
    "joint": JOINT, "c_dom": C_DOM, "p_dom": P_DOM,
}

records = []
for row_name, segs in SERIES.items():
    for s, e, c in segs:
        panel = int(min(s, 599.99) // PANEL_SPAN)
        records.append({"row": row_name, "start": s, "end": e, "code": c, "panel": panel})
df = pd.DataFrame(records)

FONT = "Liberation Sans"
AXIS_COLOR = "#262626"
panels = []
for i, p0 in enumerate(PANEL_STARTS):
    sub = df[df["panel"] == i]
    ch = alt.Chart(sub).mark_rect(stroke="black", strokeWidth=1, clip=True).encode(
        x=alt.X("start:Q",
                scale=alt.Scale(domain=[p0, p0 + PANEL_SPAN], nice=False, zero=False),
                axis=alt.Axis(values=list(range(p0, p0 + PANEL_SPAN + 1, TICK_STEP)),
                              title=None, labelFlush=False, ticks=False, grid=False,
                              domainColor=AXIS_COLOR, domainWidth=1, labelPadding=5,
                              format="d")),
        x2="end:Q",
        y=alt.Y("row:N",
                scale=alt.Scale(domain=ROWS, paddingInner=0, paddingOuter=0),
                axis=alt.Axis(title=None, domain=True, domainColor=AXIS_COLOR,
                              domainWidth=1, ticks=False, labelPadding=4)),
        color=alt.Color("code:N",
                        scale=alt.Scale(domain=COLOR_CODES, range=COLOR_VALUES),
                        legend=None),
    ).properties(width=1179, height=150)
    if i == 0:
        ch = ch.properties(title=alt.TitleParams(TITLE, fontSize=12, fontWeight="bold",
                                                 anchor="middle", frame="group",
                                                 offset=5, color="#000000", font=FONT))
    panels.append(ch)

chart = alt.vconcat(*panels, spacing=6).properties(
    background="#F0F0F0",
    padding={"left": 3, "top": 13, "right": 0, "bottom": 0},
).configure_view(stroke=None, fill="white").configure_axis(
    labelFontSize=12, labelColor=AXIS_COLOR, labelFont=FONT
).configure_concat(spacing=6)

chart.save("out.html", embed_options={"renderer": "svg", "actions": False})
